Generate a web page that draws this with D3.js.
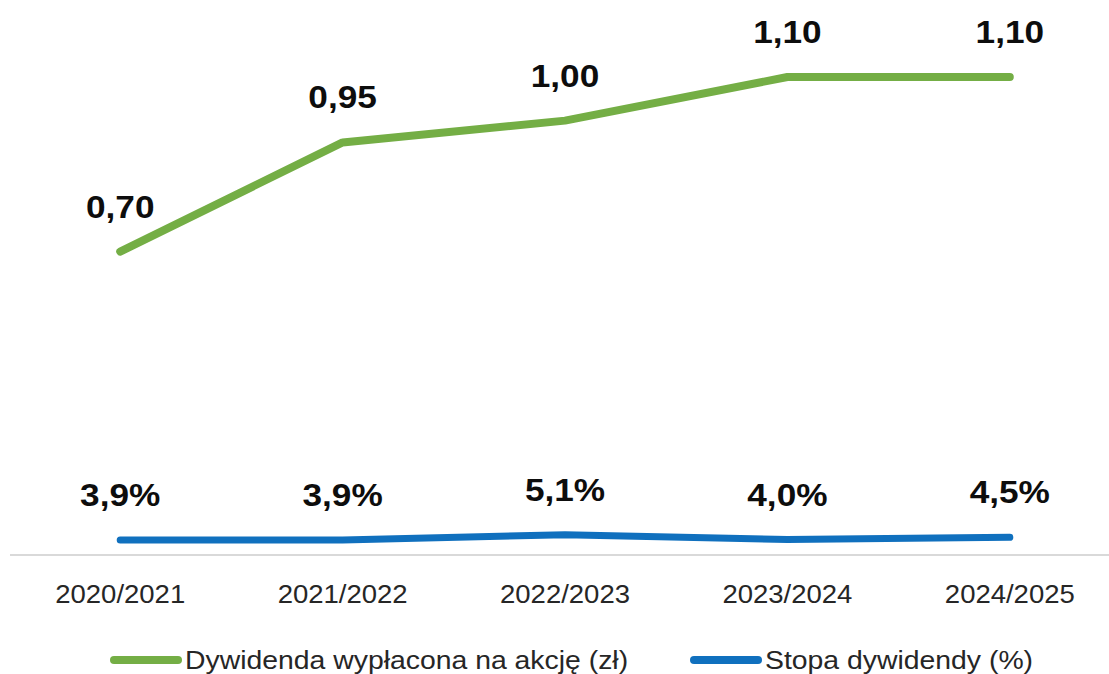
<!DOCTYPE html>
<html>
<head>
<meta charset="utf-8">
<script src="https://cdn.jsdelivr.net/npm/d3@7"></script>
<style>
  html, body { margin: 0; padding: 0; background: #fff; }
  svg { display: block; }
  text { font-family: "Liberation Sans", Arial, sans-serif; }
</style>
</head>
<body>
<script>
const categories = ["2020/2021", "2021/2022", "2022/2023", "2023/2024", "2024/2025"];
const dividend = [0.70, 0.95, 1.00, 1.10, 1.10];
const dividendLabels = ["0,70", "0,95", "1,00", "1,10", "1,10"];
const yieldValues = [0.039, 0.039, 0.051, 0.040, 0.045];
const yieldLabels = ["3,9%", "3,9%", "5,1%", "4,0%", "4,5%"];
const seriesNames = ["Dywidenda wypłacona na akcję (zł)", "Stopa dywidendy (%)"];
const colors = ["#74AE45", "#1070BE"];

const W = 1109, H = 674;
const SX = 1.1; // horizontal text stretch

const svg = d3.select("body").append("svg").attr("width", W).attr("height", H);

const x = d3.scalePoint().domain(categories).range([9, 1121]).padding(0.5);
const y = d3.scaleLinear().domain([0, 1.1]).range([557, 77]);

// axis line
svg.append("line")
  .attr("x1", 10).attr("x2", W).attr("y1", 555).attr("y2", 555)
  .attr("stroke", "#d9d9d9").attr("stroke-width", 2);

// category labels
categories.forEach(c => {
  svg.append("text")
    .attr("transform", `translate(${x(c)},603) scale(${SX},1)`)
    .attr("text-anchor", "middle")
    .attr("font-size", 25)
    .attr("fill", "#262626")
    .text(c);
});

const line = d3.line().x(d => x(d.c)).y(d => y(d.v));

const series = [
  { vals: dividend, labels: dividendLabels, color: colors[0], width: 8 },
  { vals: yieldValues, labels: yieldLabels, color: colors[1], width: 7 }
];

series.forEach(s => {
  const data = categories.map((c, i) => ({ c, v: s.vals[i], l: s.labels[i] }));
  svg.append("path")
    .datum(data)
    .attr("d", line)
    .attr("fill", "none")
    .attr("stroke", s.color)
    .attr("stroke-width", s.width)
    .attr("stroke-linecap", "round")
    .attr("stroke-linejoin", "round");
  data.forEach(d => {
    svg.append("text")
      .attr("transform", `translate(${x(d.c)},${y(d.v) - 34}) scale(${SX},1)`)
      .attr("text-anchor", "middle")
      .attr("font-size", 32)
      .attr("font-weight", "bold")
      .attr("fill", "#0d0d0d")
      .text(d.l);
  });
});

// legend
const legendItems = [
  { x: 110, name: seriesNames[0], color: colors[0] },
  { x: 690, name: seriesNames[1], color: colors[1] }
];
legendItems.forEach(it => {
  svg.append("line")
    .attr("x1", it.x + 4).attr("x2", it.x + 68)
    .attr("y1", 660).attr("y2", 660)
    .attr("stroke", it.color).attr("stroke-width", 8)
    .attr("stroke-linecap", "round");
  svg.append("text")
    .attr("transform", `translate(${it.x + 75},669) scale(${SX},1)`)
    .attr("font-size", 25.8)
    .attr("fill", "#262626")
    .text(it.name);
});
</script>
</body>
</html>
